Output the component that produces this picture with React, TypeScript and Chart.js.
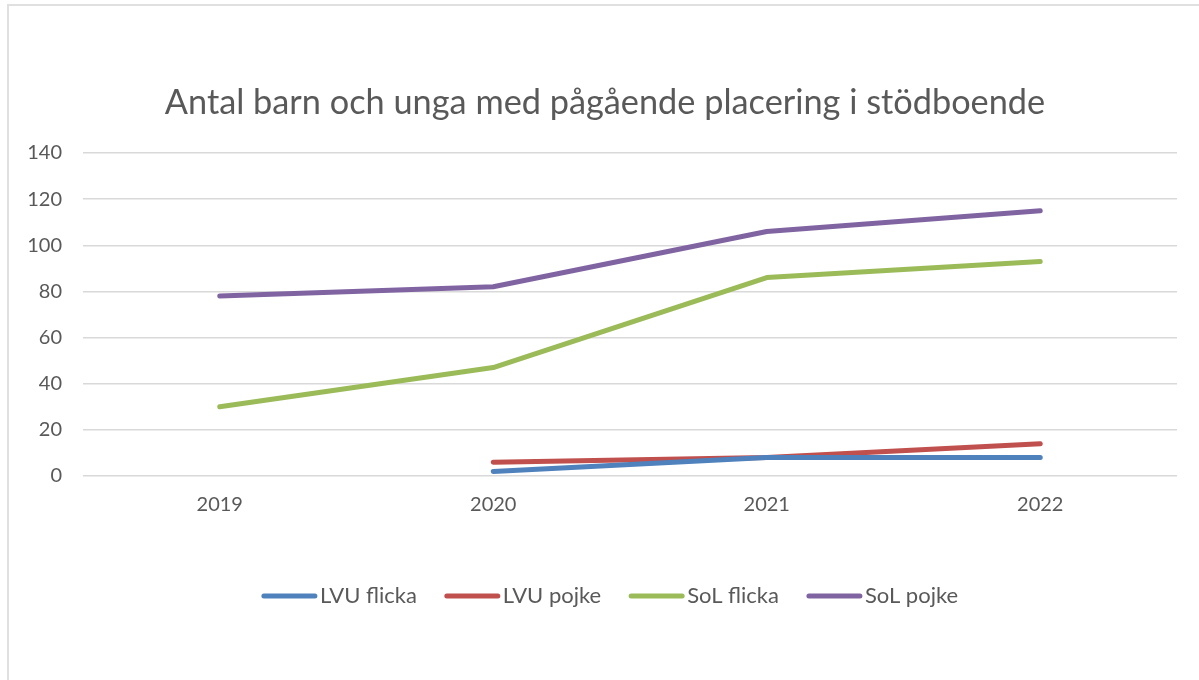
import React, { useEffect, useRef } from "react";
import { Chart, registerables } from "chart.js";

Chart.register(...registerables);

const years = ["2019", "2020", "2021", "2022"];
const lvuFlicka = [null, 2, 8, 8];
const lvuPojke = [null, 6, 8, 14];
const solFlicka = [30, 47, 86, 93];
const solPojke = [78, 82, 106, 115];
const seriesLabels = ["LVU flicka", "LVU pojke", "SoL flicka", "SoL pojke"];
const seriesColors = ["#4F81BD", "#C0504D", "#9BBB59", "#8064A2"];
const yMax = 140;
const yStep = 20;
const titleText = "Antal barn och unga med pågående placering i stödboende";

const FONT = "Lato, 'Open Sans', sans-serif";
const TEXT_COLOR = "#595959";

const textPlugin = {
  id: "titleAndLegend",
  afterDraw(chart: any) {
    const ctx = chart.ctx;
    const area = chart.chartArea;
    const mid = (area.left + area.right) / 2;
    ctx.save();
    // title
    ctx.font = `34.3px ${FONT}`;
    ctx.fillStyle = TEXT_COLOR;
    ctx.textAlign = "center";
    ctx.textBaseline = "middle";
    ctx.fillText(titleText, mid - 25, 102.6);

    // legend
    const datasets = chart.data.datasets;
    const lineLen = 55;
    const gapText = 3;
    const itemGap = 28;
    ctx.font = `22px ${FONT}`;
    const widths = datasets.map((d: any) => lineLen + gapText + ctx.measureText(d.label).width);
    const total = widths.reduce((a: number, b: number) => a + b, 0) + itemGap * (datasets.length - 1);
    let x = mid - 20 - total / 2;
    const y = 596;
    datasets.forEach((d: any, i: number) => {
      ctx.strokeStyle = d.borderColor;
      ctx.lineWidth = 5;
      ctx.lineCap = "round";
      ctx.beginPath();
      ctx.moveTo(x + 2, y);
      ctx.lineTo(x + lineLen - 2, y);
      ctx.stroke();
      ctx.fillStyle = TEXT_COLOR;
      ctx.textBaseline = "middle";
      ctx.textAlign = "left";
      ctx.fillText(d.label, x + lineLen + gapText, y);
      x += widths[i] + itemGap;
    });
    ctx.restore();
  },
};

export default function App() {
  const canvasRef = useRef<HTMLCanvasElement | null>(null);

  useEffect(() => {
    if (!canvasRef.current) return;
    const seriesData = [lvuFlicka, lvuPojke, solFlicka, solPojke];
    const chart = new Chart(canvasRef.current, {
      type: "line",
      data: {
        labels: years,
        datasets: seriesData.map((d, i) => ({
          label: seriesLabels[i],
          data: d,
          borderColor: seriesColors[i],
          backgroundColor: seriesColors[i],
          borderWidth: 5,
          pointRadius: 0,
          pointHoverRadius: 0,
          tension: 0,
          borderCapStyle: "round" as const,
          borderJoinStyle: "round" as const,
          fill: false,
        })),
      },
      options: {
        responsive: false,
        animation: false,
        devicePixelRatio: 1,
        layout: { padding: { left: 13, right: 22, top: 153, bottom: 146 } },
        plugins: {
          legend: { display: false },
          tooltip: { enabled: false },
          title: { display: false },
        },
        scales: {
          x: {
            offset: true,
            grid: { display: false, drawTicks: false },
            border: { display: false },
            ticks: { color: TEXT_COLOR, font: { family: FONT, size: 20 }, padding: 17, maxRotation: 0 },
          },
          y: {
            min: 0,
            max: yMax,
            grid: { color: "#d9d9d9", lineWidth: 1.5, drawTicks: false },
            border: { display: false },
            ticks: { stepSize: yStep, color: TEXT_COLOR, font: { family: FONT, size: 20 }, padding: 21 },
            afterFit: (scale: any) => {
              scale.width = 70;
            },
          },
        },
      },
      plugins: [textPlugin],
    });
    return () => chart.destroy();
  }, []);

  return (
    <div style={{ position: "fixed", left: 0, top: 0, width: 1199, height: 680, overflow: "hidden", background: "#fff" }}>
      <div
        style={{
          position: "absolute",
          left: 7,
          top: 4,
          width: 1300,
          height: 800,
          border: "2px solid #e0e0e0",
          boxSizing: "border-box",
        }}
      />
      <canvas ref={canvasRef} width={1199} height={680} style={{ position: "absolute", left: 0, top: 0, width: 1199, height: 680 }} />
    </div>
  );
}
